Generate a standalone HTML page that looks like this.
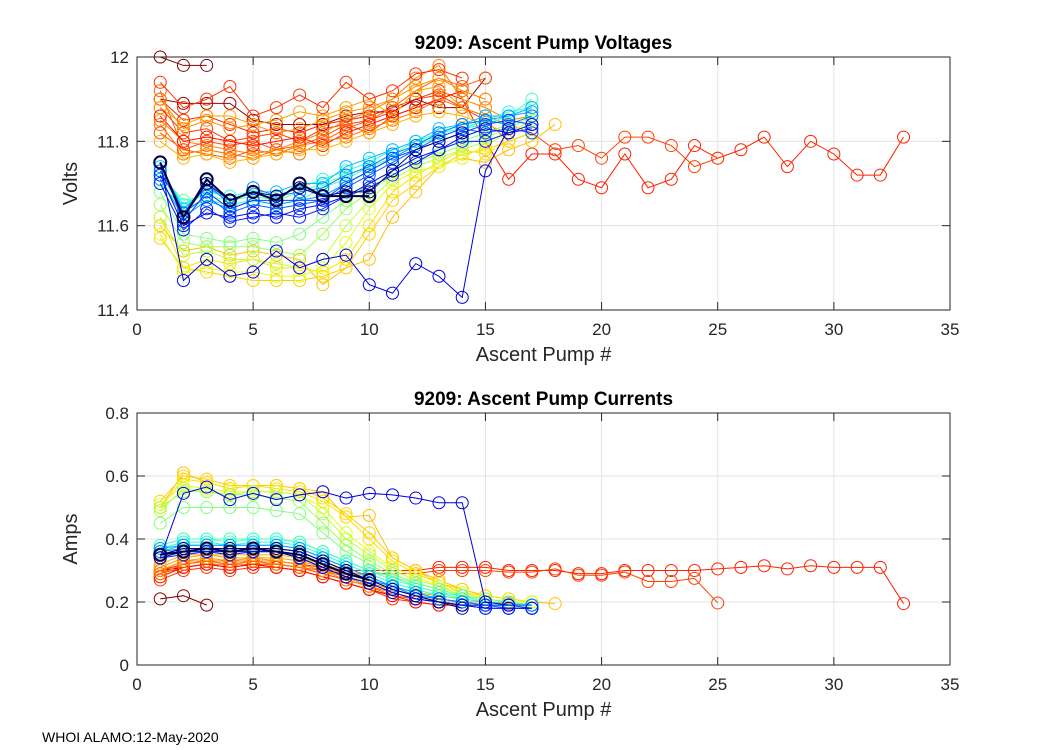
<!DOCTYPE html>
<html><head><meta charset="utf-8"><style>
body{margin:0;background:#fff;}
svg{display:block;font-family:"Liberation Sans",Arial,sans-serif;}
</style></head><body>
<svg id="c" width="1050" height="750"></svg>
<script>
const xTicks=[0,5,10,15,20,25,30,35];
const vTicks=[11.4,11.6,11.8,12];
const aTicks=[0,0.2,0.4,0.6,0.8];
const seriesColors=['#800000','#ff2000','#ff4000','#a00000','#ff8000','#ff6000','#ffa000','#ff3000','#ff5000','#ff1000','#ff7000','#ffb000','#ff9000','#ffc000','#ffd000','#ffe000','#e0ff20','#c0ff40','#a0ff60','#80ff80','#60ffa0','#40ffc0','#20ffe0','#00c0ff','#00a0ff','#0080ff','#0060ff','#0040ff','#0020ff','#0010e0','#0000e0','#000080','#000040'];
const volts=[
[12.0,11.98,11.98],
[11.9,11.85,11.86,11.84,11.82,11.83,11.82,11.84,11.85,11.86,11.88,11.9,11.92,11.9,11.8,11.71,11.77,11.77,11.71,11.69,11.77,11.69,11.71,11.79,11.76,11.78,11.81,11.74,11.80,11.77,11.72,11.72,11.81],
[11.88,11.82,11.83,11.8,11.81,11.82,11.8,11.83,11.84,11.85,11.87,11.9,11.91,11.88,11.85,11.8,11.82,11.78,11.79,11.76,11.81,11.81,11.79,11.74,11.76],
[11.9,11.89,11.89,11.89,11.85,11.84,11.84,11.84,11.86,11.87,11.87,11.9,11.88,11.88,11.95],
[11.85,11.80,11.79,11.78,11.77,11.78,11.8,11.82,11.85,11.87,11.9,11.95,11.98,11.9,11.88,11.85,11.86],
[11.92,11.78,11.77,11.76,11.78,11.77,11.79,11.8,11.83,11.85,11.88,11.92,11.95,11.93,11.95],
[11.88,11.84,11.86,11.86,11.84,11.85,11.87,11.86,11.88,11.9,11.86,11.92,11.93,11.88,11.86,11.84,11.82],
[11.94,11.88,11.9,11.93,11.86,11.88,11.91,11.88,11.94,11.9,11.92,11.96,11.97,11.95],
[11.82,11.78,11.8,11.79,11.8,11.78,11.79,11.81,11.84,11.82,11.86,11.88,11.9,11.92,11.9],
[11.86,11.8,11.81,11.8,11.79,11.8,11.81,11.79,11.82,11.84,11.86,11.88,11.9,11.92],
[11.84,11.77,11.78,11.77,11.76,11.78,11.77,11.8,11.81,11.83,11.85,11.87,11.9,11.88,11.86],
[11.8,11.76,11.77,11.75,11.76,11.77,11.78,11.78,11.8,11.82,11.84,11.86,11.87,11.86,11.84,11.82],
[11.9,11.83,11.85,11.83,11.84,11.82,11.83,11.85,11.87,11.88,11.9,11.93,11.95,11.92,11.9],
[11.6,11.54,11.55,11.53,11.54,11.53,11.52,11.46,11.5,11.52,11.62,11.68,11.74,11.76,11.75,11.78,11.80,11.84],
[11.57,11.5,11.49,11.48,11.47,11.47,11.47,11.48,11.5,11.58,11.66,11.7,11.74,11.77,11.78,11.8,11.82],
[11.62,11.5,11.52,11.51,11.52,11.5,11.5,11.49,11.52,11.6,11.68,11.72,11.75,11.78,11.77,11.8,11.82],
[11.58,11.49,11.5,11.49,11.49,11.48,11.48,11.5,11.56,11.64,11.7,11.73,11.74,11.76,11.79,11.82,11.84],
[11.62,11.53,11.54,11.52,11.52,11.51,11.5,11.52,11.6,11.66,11.71,11.74,11.76,11.78,11.8,11.82,11.85],
[11.65,11.56,11.55,11.55,11.55,11.54,11.53,11.58,11.64,11.68,11.72,11.75,11.77,11.79,11.81,11.83,11.86],
[11.68,11.58,11.57,11.56,11.57,11.56,11.58,11.62,11.66,11.7,11.73,11.76,11.78,11.8,11.82,11.84,11.86],
[11.72,11.66,11.67,11.66,11.67,11.66,11.68,11.7,11.72,11.74,11.77,11.8,11.81,11.83,11.84,11.86,11.88],
[11.7,11.64,11.66,11.65,11.66,11.65,11.66,11.69,11.71,11.74,11.76,11.79,11.81,11.83,11.84,11.86,11.9],
[11.73,11.65,11.68,11.67,11.68,11.67,11.69,11.71,11.73,11.75,11.78,11.8,11.82,11.83,11.85,11.87,11.88],
[11.74,11.64,11.69,11.66,11.68,11.68,11.7,11.7,11.74,11.76,11.78,11.8,11.83,11.84,11.86,11.86,11.88],
[11.71,11.62,11.66,11.64,11.66,11.65,11.66,11.67,11.7,11.73,11.76,11.79,11.82,11.84,11.85,11.86,11.87],
[11.75,11.63,11.7,11.65,11.69,11.67,11.68,11.69,11.72,11.74,11.77,11.79,11.82,11.84,11.85,11.84,11.86],
[11.73,11.63,11.67,11.63,11.65,11.64,11.65,11.66,11.69,11.72,11.75,11.78,11.81,11.83,11.82,11.83,11.82],
[11.75,11.61,11.68,11.64,11.66,11.66,11.66,11.66,11.7,11.73,11.76,11.78,11.8,11.82,11.84,11.85,11.84],
[11.7,11.59,11.64,11.61,11.62,11.63,11.62,11.64,11.67,11.69,11.72,11.75,11.78,11.8,11.8,11.82,11.83],
[11.72,11.6,11.63,11.62,11.63,11.62,11.64,11.65,11.67,11.7,11.73,11.76,11.78,11.81,11.83,11.82,11.84],
[11.75,11.47,11.52,11.48,11.49,11.54,11.5,11.52,11.53,11.46,11.44,11.51,11.48,11.43,11.73,11.83],
[11.75,11.62,11.7,11.66,11.68,11.67,11.69,11.67,11.68,11.68,11.73,11.78,11.8,11.82],
[11.75,11.62,11.71,11.66,11.68,11.66,11.7,11.67,11.67,11.67]
];
const amps=[
[0.21,0.22,0.19],
[0.3,0.32,0.33,0.32,0.33,0.33,0.32,0.31,0.3,0.3,0.3,0.3,0.31,0.31,0.31,0.3,0.3,0.3,0.29,0.29,0.3,0.3,0.3,0.3,0.305,0.31,0.315,0.305,0.315,0.31,0.31,0.31,0.195],
[0.29,0.31,0.32,0.31,0.32,0.32,0.31,0.3,0.29,0.29,0.29,0.29,0.3,0.3,0.3,0.295,0.295,0.305,0.285,0.285,0.295,0.265,0.265,0.275,0.197],
[0.3,0.31,0.32,0.31,0.32,0.31,0.3,0.28,0.26,0.24,0.22,0.21,0.2,0.19,0.19],
[0.3,0.33,0.33,0.32,0.33,0.33,0.32,0.3,0.28,0.26,0.24,0.22,0.21,0.2,0.2,0.195,0.19],
[0.28,0.31,0.32,0.32,0.32,0.32,0.31,0.29,0.27,0.25,0.22,0.21,0.2,0.19,0.19],
[0.31,0.34,0.35,0.34,0.34,0.34,0.33,0.31,0.29,0.27,0.25,0.23,0.22,0.21,0.2,0.2,0.19],
[0.27,0.3,0.31,0.3,0.31,0.31,0.3,0.28,0.26,0.24,0.21,0.2,0.19,0.19],
[0.29,0.32,0.33,0.33,0.33,0.32,0.31,0.29,0.27,0.25,0.23,0.21,0.2,0.19,0.19],
[0.28,0.31,0.32,0.31,0.32,0.31,0.3,0.28,0.26,0.24,0.22,0.2,0.19,0.19],
[0.29,0.32,0.33,0.33,0.33,0.32,0.31,0.3,0.28,0.25,0.23,0.21,0.2,0.19,0.19],
[0.32,0.35,0.35,0.35,0.35,0.35,0.34,0.32,0.3,0.28,0.25,0.23,0.22,0.21,0.2,0.2],
[0.3,0.33,0.34,0.33,0.34,0.33,0.32,0.3,0.27,0.25,0.23,0.21,0.2,0.2,0.19],
[0.5,0.61,0.58,0.56,0.57,0.57,0.56,0.55,0.47,0.475,0.34,0.3,0.27,0.24,0.22,0.21,0.2,0.195],
[0.52,0.6,0.59,0.57,0.57,0.57,0.56,0.53,0.48,0.42,0.34,0.3,0.26,0.24,0.22,0.21,0.2],
[0.5,0.59,0.58,0.56,0.57,0.56,0.55,0.52,0.47,0.4,0.33,0.29,0.26,0.23,0.22,0.21,0.2],
[0.51,0.57,0.56,0.55,0.55,0.55,0.54,0.5,0.42,0.36,0.31,0.28,0.25,0.23,0.21,0.2,0.2],
[0.49,0.56,0.55,0.54,0.55,0.55,0.54,0.48,0.4,0.35,0.3,0.27,0.25,0.22,0.21,0.2,0.19],
[0.5,0.55,0.55,0.54,0.54,0.53,0.52,0.45,0.38,0.33,0.29,0.26,0.24,0.22,0.21,0.2,0.19],
[0.45,0.5,0.5,0.5,0.5,0.49,0.48,0.42,0.36,0.32,0.28,0.26,0.24,0.22,0.21,0.2,0.19],
[0.38,0.4,0.4,0.39,0.4,0.4,0.39,0.36,0.33,0.3,0.27,0.25,0.23,0.21,0.2,0.2,0.19],
[0.38,0.4,0.4,0.4,0.4,0.4,0.39,0.36,0.33,0.3,0.28,0.25,0.23,0.22,0.2,0.2,0.19],
[0.37,0.39,0.39,0.38,0.39,0.39,0.38,0.35,0.32,0.29,0.26,0.24,0.22,0.21,0.2,0.19,0.19],
[0.36,0.38,0.38,0.38,0.38,0.38,0.37,0.34,0.31,0.28,0.25,0.23,0.21,0.2,0.19,0.19,0.19],
[0.37,0.38,0.38,0.38,0.38,0.38,0.37,0.34,0.31,0.28,0.25,0.23,0.21,0.2,0.19,0.19,0.19],
[0.36,0.37,0.37,0.37,0.37,0.37,0.36,0.33,0.3,0.27,0.25,0.22,0.21,0.2,0.19,0.19,0.19],
[0.35,0.37,0.37,0.36,0.37,0.37,0.36,0.33,0.3,0.27,0.24,0.22,0.2,0.19,0.19,0.18,0.18],
[0.35,0.36,0.36,0.36,0.36,0.36,0.35,0.32,0.29,0.27,0.24,0.22,0.2,0.19,0.19,0.19,0.18],
[0.34,0.35,0.36,0.35,0.36,0.36,0.34,0.31,0.28,0.26,0.23,0.21,0.2,0.19,0.18,0.18,0.18],
[0.34,0.36,0.36,0.36,0.36,0.36,0.34,0.31,0.28,0.26,0.23,0.21,0.2,0.19,0.18,0.18,0.18],
[0.34,0.545,0.565,0.525,0.545,0.525,0.54,0.55,0.53,0.545,0.54,0.53,0.515,0.515,0.2,0.19],
[0.35,0.37,0.37,0.37,0.37,0.37,0.36,0.33,0.3,0.27,0.24,0.22,0.2,0.18],
[0.35,0.36,0.37,0.36,0.37,0.36,0.35,0.32,0.29,0.27]
];
const NS='http://www.w3.org/2000/svg';
const svg=document.getElementById('c');
function mk(tag,attrs,parent){const e=document.createElementNS(NS,tag);for(const k in attrs)e.setAttribute(k,attrs[k]);(parent||svg).appendChild(e);return e;}
const X0=137,X1=950;
function xs(v){return X0+(v-0)/(35-0)*(X1-X0);}
function panel(name,top,bot,ymin,ymax,yt,yfmt,data,title,ylabel){
  const g=mk('g',{});
  
  
  const ys=v=>bot-(v-ymin)/(ymax-ymin)*(bot-top);
  mk('rect',{x:X0,y:top,width:X1-X0,height:bot-top,fill:'#fff'},g);
  xTicks.forEach(t=>{if(t>0&&t<35){const l=mk('line',{x1:xs(t),x2:xs(t),y1:top,y2:bot,stroke:'#e3e3e3','stroke-width':1},g);}});
  yt.forEach(t=>{if(t>ymin&&t<ymax){const l=mk('line',{x1:X0,x2:X1,y1:ys(t),y2:ys(t),stroke:'#e3e3e3','stroke-width':1},g);}});
  const sg=mk('g',{fill:'none','stroke-width':1},g);
  data.forEach((arr,i)=>{
    const last=i===data.length-1;
    const s=mk('g',{stroke:seriesColors[i],'stroke-width':last?2:1},sg);
    
    
    mk('polyline',{points:arr.map((v,j)=>xs(j+1)+','+ys(v)).join(' ')},s);
    arr.forEach((v,j)=>{const c=mk('circle',{cx:xs(j+1),cy:ys(v),r:6},s);});
  });
  mk('rect',{x:X0,y:top,width:X1-X0,height:bot-top,fill:'none',stroke:'#262626','stroke-width':1},g);
  xTicks.forEach(t=>{mk('line',{x1:xs(t),x2:xs(t),y1:bot,y2:bot-8,stroke:'#262626'},g);mk('line',{x1:xs(t),x2:xs(t),y1:top,y2:top+8,stroke:'#262626'},g);
    const tx=mk('text',{x:xs(t),y:bot+25,'text-anchor':'middle','font-size':17,fill:'#262626'},g);tx.textContent=t;});
  yt.forEach(t=>{mk('line',{x1:X0,x2:X0+8,y1:ys(t),y2:ys(t),stroke:'#262626'},g);mk('line',{x1:X1,x2:X1-8,y1:ys(t),y2:ys(t),stroke:'#262626'},g);
    const tx=mk('text',{x:X0-8,y:ys(t)+6,'text-anchor':'end','font-size':17,fill:'#262626'},g);tx.textContent=yfmt(t);});
  const tt=mk('text',{x:(X0+X1)/2,y:top-8,'text-anchor':'middle','font-size':19,'font-weight':'bold',fill:'#000'},g);tt.textContent=title;
  
  const xl=mk('text',{x:(X0+X1)/2,y:bot+51,'text-anchor':'middle','font-size':20,fill:'#262626'},g);xl.textContent='Ascent Pump #';
  
  const cy=(top+bot)/2;
  const yl=mk('text',{x:77,y:cy,'text-anchor':'middle','font-size':20,fill:'#262626',transform:'rotate(-90 77 '+cy+')'},g);yl.textContent=ylabel;
  
}
panel('voltage-panel',57,310,11.4,12,vTicks,t=>t===12?'12':t.toFixed(1),volts,'9209: Ascent Pump Voltages','Volts');
panel('current-panel',413,665,0,0.8,aTicks,t=>t===0?'0':t.toFixed(1),amps,'9209: Ascent Pump Currents','Amps');
const ft=mk('text',{x:42,y:742,'font-size':14,fill:'#000'});ft.textContent='WHOI ALAMO:12-May-2020';


</script>
</body></html>
